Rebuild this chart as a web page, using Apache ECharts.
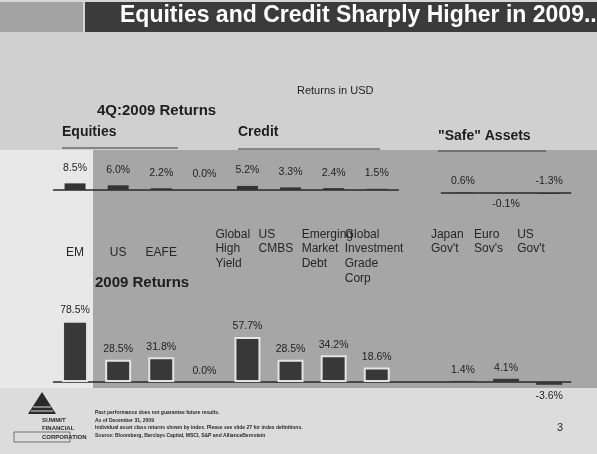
<!DOCTYPE html>
<html>
<head>
<meta charset="utf-8">
<script src="https://cdn.jsdelivr.net/npm/echarts@6/dist/echarts.min.js"></script>
<style>
html, body { margin: 0; padding: 0; background: #d6d6d6; }
#chart { width: 597px; height: 454px; }
</style>
</head>
<body>
<div id="chart"></div>
<script>
// categories ('' = spacer column)
var categories = ['EM', 'US', 'EAFE', '', 'Global High Yield', 'US CMBS', 'Emerging Market Debt',
    'Global Investment Grade Corp', '', "Japan Gov't", "Euro Sov's", "US Gov't"];
// returns in USD, %
var q4Returns = [8.5, 6.0, 2.2, 0.0, 5.2, 3.3, 2.4, 1.5, null, 0.6, -0.1, -1.3];
var fy2009Returns = [78.5, 28.5, 31.8, 0.0, 57.7, 28.5, 34.2, 18.6, null, 1.4, 4.1, -3.6];
var groupNames = ['Equities', 'Credit', '"Safe" Assets'];
var footNotes = [
    'Past performance does not guarantee future results.',
    'As of December 31, 2009',
    'Individual asset class returns shown by index. Please see slide 27 for index definitions.',
    'Source: Bloomberg, Barclays Capital, MSCI, S&P and AllianceBernstein'
];

var FONT = '"Liberation Sans", Arial, sans-serif';
var slotW = 43.1, left0 = 53.5;
var pxPerPct = 0.78;

var myChart = echarts.init(document.getElementById('chart'));

function pct(p) { return p.value == null ? '' : p.value.toFixed(1) + '%'; }

function barLabel(dist) {
    return { show: true, position: 'top', distance: dist, formatter: pct,
        color: '#1e1e1e', fontSize: 10.5, fontFamily: FONT };
}

var q4A = q4Returns.slice(0, 8);
var q4B = q4Returns.slice(9).map(function (v, i) {
    // the small negative one sits below the line in the slide
    return i === 1 ? { value: v, label: { position: 'bottom', distance: 6 } } : v;
});
var fy = fy2009Returns.map(function (v) {
    if (v == null) return v;
    var item = { value: v };
    // thin bars show no light frame
    if (Math.abs(v) < 10) item.itemStyle = { borderWidth: 0 };
    if (v < 0) item.label = { position: 'bottom', distance: 6 };
    return item;
});

function wrapLabel(v) {
    if (!v) return '';
    var words = v.split(' ');
    if (words.length === 1) return '{c|' + v + '}';
    return '{l|' + words.join('\n') + '}';
}

var axisLineStyle = { show: true, lineStyle: { color: '#2a2a2a', width: 1.5 } };

var option = {
    backgroundColor: '#d6d6d6',
    animation: false,
    textStyle: { fontFamily: FONT },
    graphic: [
        // page shading
        { type: 'rect', z: -10, shape: { x: 0, y: 32, width: 597, height: 118 }, style: { fill: '#d0d0d0' } },
        { type: 'rect', z: -10, shape: { x: 93, y: 150, width: 504, height: 238 }, style: { fill: '#a6a6a6' } },
        { type: 'rect', z: -10, shape: { x: 0, y: 150, width: 93, height: 238 }, style: { fill: '#e8e8e8' } },
        { type: 'rect', z: -10, shape: { x: 0, y: 388, width: 597, height: 66 }, style: { fill: '#dcdcdc' } },
        // title banner
        { type: 'rect', z: -5, shape: { x: 0, y: 2, width: 83, height: 30 }, style: { fill: '#a3a3a3' } },
        { type: 'rect', z: -5, shape: { x: 85, y: 2, width: 512, height: 30 }, style: { fill: '#3b3b3b' } },
        { type: 'text', left: 120, top: 4, style: { text: 'Equities and Credit Sharply Higher in 2009...',
            fill: '#ffffff', font: 'bold 23px ' + FONT } },
        // headings
        { type: 'text', left: 297, top: 85, style: { text: 'Returns in USD', fill: '#1e1e1e', font: '11px ' + FONT } },
        { type: 'text', left: 97, top: 103, style: { text: '4Q:2009 Returns', fill: '#1e1e1e', font: 'bold 15px ' + FONT } },
        { type: 'text', left: 62, top: 125, style: { text: groupNames[0], fill: '#1e1e1e', font: 'bold 14px ' + FONT } },
        { type: 'text', left: 238, top: 125, style: { text: groupNames[1], fill: '#1e1e1e', font: 'bold 14px ' + FONT } },
        { type: 'text', left: 438, top: 129, style: { text: groupNames[2], fill: '#1e1e1e', font: 'bold 14px ' + FONT } },
        { type: 'line', shape: { x1: 62, y1: 148, x2: 178, y2: 148 }, style: { stroke: '#3a3a3a', lineWidth: 1 } },
        { type: 'line', shape: { x1: 238, y1: 149, x2: 380, y2: 149 }, style: { stroke: '#3a3a3a', lineWidth: 1 } },
        { type: 'line', shape: { x1: 438, y1: 151, x2: 546, y2: 151 }, style: { stroke: '#3a3a3a', lineWidth: 1 } },
        { type: 'text', left: 95, top: 275, style: { text: '2009 Returns', fill: '#1e1e1e', font: 'bold 15px ' + FONT } },
        // logo
        { type: 'polygon', shape: { points: [[42, 392], [28, 414], [56, 414]] }, style: { fill: '#2a2a2a' } },
        { type: 'line', shape: { x1: 33, y1: 407, x2: 51, y2: 407 }, style: { stroke: '#dcdcdc', lineWidth: 1 } },
        { type: 'line', shape: { x1: 31, y1: 411, x2: 53, y2: 411 }, style: { stroke: '#dcdcdc', lineWidth: 1 } },
        { type: 'text', left: 42, top: 416, style: { text: 'SUMMIT\nFINANCIAL', align: 'center', fill: '#2a2a2a',
            font: 'bold 6px ' + FONT, lineHeight: 8 } },
        { type: 'rect', shape: { x: 14, y: 432, width: 56, height: 10 }, style: { fill: 'none', stroke: '#555', lineWidth: 0.8 } },
        { type: 'text', left: 42, top: 434, style: { text: 'CORPORATION', align: 'center', fill: '#2a2a2a',
            font: 'bold 6px ' + FONT } },
        // footnotes
        { type: 'text', left: 95, top: 409, style: { text: footNotes.join('\n'), fill: '#2a2a2a',
            font: 'bold 5px ' + FONT, lineHeight: 7.5 } },
        { type: 'text', left: 557, top: 422, style: { text: '3', fill: '#2a2a2a', font: '11px ' + FONT } }
    ],
    grid: [
        { left: left0, width: 8 * slotW, top: 190 - 20 * pxPerPct, height: 30 * pxPerPct },
        { left: left0 + 9 * slotW, width: 3 * slotW, top: 193 - 20 * pxPerPct, height: 30 * pxPerPct },
        { left: left0, width: 12 * slotW, top: 382 - 90 * pxPerPct, height: 100 * pxPerPct },
        { left: left0, width: 12 * slotW, top: 219, height: 1 }
    ],
    xAxis: [
        { gridIndex: 0, type: 'category', data: categories.slice(0, 8), axisLine: axisLineStyle,
            axisTick: { show: false }, axisLabel: { show: false } },
        { gridIndex: 1, type: 'category', data: categories.slice(9), axisLine: axisLineStyle,
            axisTick: { show: false }, axisLabel: { show: false } },
        { gridIndex: 2, type: 'category', data: categories, axisLine: axisLineStyle,
            axisTick: { show: false }, axisLabel: { show: false } },
        { gridIndex: 3, type: 'category', data: categories, axisLine: { show: false },
            axisTick: { show: false },
            axisLabel: {
                interval: 0, margin: 7, formatter: wrapLabel,
                rich: {
                    c: { width: 64, align: 'center', lineHeight: 52, fontSize: 12, color: '#262626', fontFamily: FONT },
                    l: { width: 64, align: 'left', lineHeight: 14.7, fontSize: 12, color: '#262626', fontFamily: FONT }
                }
            } }
    ],
    yAxis: [
        { gridIndex: 0, type: 'value', min: -10, max: 20, show: false },
        { gridIndex: 1, type: 'value', min: -10, max: 20, show: false },
        { gridIndex: 2, type: 'value', min: -10, max: 90, show: false },
        { gridIndex: 3, type: 'value', min: 0, max: 1, show: false }
    ],
    series: [
        { type: 'bar', xAxisIndex: 0, yAxisIndex: 0, data: q4A, barWidth: 21,
            itemStyle: { color: '#333333' }, label: barLabel(10) },
        { type: 'bar', xAxisIndex: 1, yAxisIndex: 1, data: q4B, barWidth: 21,
            itemStyle: { color: '#333333' }, label: barLabel(6) },
        { type: 'bar', xAxisIndex: 2, yAxisIndex: 2, data: fy, barWidth: 26,
            itemStyle: { color: '#383838', borderColor: '#e4e4e4', borderWidth: 2 }, label: barLabel(5) }
    ]
};

myChart.setOption(option);
</script>
</body>
</html>
